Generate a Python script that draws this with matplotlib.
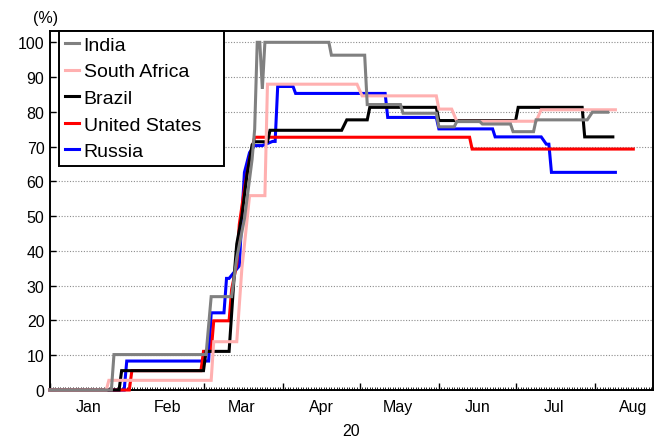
import matplotlib
matplotlib.use('Agg')
import matplotlib.pyplot as plt
import matplotlib.dates as mdates
import pandas as pd

plt.rcParams['font.family'] = ['Liberation Sans', 'DejaVu Sans']

# stringency index, change points only (value holds between listed dates)
india_dates = ['2020-01-01', '2020-01-25', '2020-01-26', '2020-03-02', '2020-03-04',
               '2020-03-12', '2020-03-14', '2020-03-17', '2020-03-20', '2020-03-21',
               '2020-03-22', '2020-03-23', '2020-03-24', '2020-03-25', '2020-04-19',
               '2020-04-20', '2020-05-03', '2020-05-04', '2020-05-17', '2020-05-18',
               '2020-05-31', '2020-06-01', '2020-06-07', '2020-06-08', '2020-06-17',
               '2020-06-18', '2020-06-29', '2020-06-30', '2020-07-08', '2020-07-09',
               '2020-07-29', '2020-07-31', '2020-08-06']
india_vals = [0, 0, 10.19, 10.19, 26.85, 26.85, 38.0, 49.2, 66.4, 75.0,
              100, 100, 86.6, 100, 100, 96.3, 96.3, 82.1, 82.1, 79.6,
              79.6, 75.7, 75.7, 77.2, 77.2, 76.5, 76.5, 74.3, 74.3, 77.7,
              77.7, 79.9, 79.9]

sa_dates = ['2020-01-01', '2020-01-23', '2020-01-24', '2020-03-04', '2020-03-05',
            '2020-03-14', '2020-03-16', '2020-03-17', '2020-03-19', '2020-03-25',
            '2020-03-26', '2020-04-30', '2020-05-02', '2020-05-31', '2020-06-01',
            '2020-06-06', '2020-06-08', '2020-07-09', '2020-07-11', '2020-08-09']
sa_vals = [0, 0, 2.78, 2.78, 13.89, 13.89, 35.0, 41.7, 55.9, 55.9,
           87.96, 87.96, 84.6, 84.6, 80.8, 80.8, 77.3, 77.3, 80.6, 80.6]

brazil_dates = ['2020-01-01', '2020-01-28', '2020-01-29', '2020-03-01', '2020-03-02',
                '2020-03-11', '2020-03-12', '2020-03-13', '2020-03-14', '2020-03-16',
                '2020-03-18', '2020-03-20', '2020-03-21', '2020-03-26', '2020-03-27',
                '2020-04-24', '2020-04-26', '2020-05-04', '2020-05-05', '2020-05-31',
                '2020-06-01', '2020-07-01', '2020-07-02', '2020-07-27', '2020-07-28',
                '2020-08-08']
brazil_vals = [0, 0, 5.56, 5.56, 11.11, 11.11, 22.0, 33.0, 42.0, 50.0,
               62.0, 70.5, 71.4, 71.4, 74.7, 74.7, 77.7, 77.7, 81.3, 81.3,
               77.5, 77.5, 81.3, 81.3, 72.8, 72.8]

us_dates = ['2020-01-01', '2020-02-01', '2020-02-02', '2020-02-29', '2020-03-01',
            '2020-03-04', '2020-03-05', '2020-03-11', '2020-03-12', '2020-03-14',
            '2020-03-15', '2020-03-17', '2020-03-19', '2020-03-21', '2020-06-13',
            '2020-06-14', '2020-08-16']
us_vals = [0, 0, 5.56, 5.56, 11.11, 11.11, 19.9, 19.9, 29.0, 36.2,
           47.7, 57.8, 66.4, 72.7, 72.7, 69.3, 69.3]

russia_dates = ['2020-01-01', '2020-01-30', '2020-01-31', '2020-03-03', '2020-03-04',
                '2020-03-09', '2020-03-10', '2020-03-11', '2020-03-15', '2020-03-16',
                '2020-03-17', '2020-03-19', '2020-03-21', '2020-03-24', '2020-03-28',
                '2020-03-29', '2020-03-30', '2020-04-05', '2020-04-06', '2020-05-11',
                '2020-05-12', '2020-05-31', '2020-06-01', '2020-06-22', '2020-06-23',
                '2020-07-11', '2020-07-13', '2020-07-14', '2020-07-15', '2020-08-09']
russia_vals = [0, 0, 8.33, 8.33, 22.2, 22.2, 32.1, 32.1, 35.7, 50.0,
               62.6, 68.3, 70.3, 70.3, 71.5, 71.5, 87.3, 87.3, 85.3, 85.3,
               78.4, 78.4, 75.1, 75.1, 72.8, 72.8, 70.7, 70.7, 62.6, 62.6]

series = [
    ('India', india_dates, india_vals, '#808080'),
    ('South Africa', sa_dates, sa_vals, '#ffb0b0'),
    ('Brazil', brazil_dates, brazil_vals, '#000000'),
    ('United States', us_dates, us_vals, '#ff0000'),
    ('Russia', russia_dates, russia_vals, '#0000ff'),
]

month_names = ['Jan', 'Feb', 'Mar', 'Apr', 'May', 'Jun', 'Jul', 'Aug']
y_ticks = list(range(0, 101, 10))

fig = plt.figure(figsize=(6.54, 4.39), dpi=100)
ax = fig.add_axes([50 / 654, 48 / 439, 602.5 / 654, 359.5 / 439])

handles = {}
# draw in reverse so India ends up on top
for name, dates, vals, color in reversed(series):
    line, = ax.plot(pd.to_datetime(dates), vals, color=color, lw=2.2,
                    zorder=3, clip_on=False, solid_joinstyle='miter')
    handles[name] = line

ax.set_xlim(pd.Timestamp('2020-01-01'), pd.Timestamp('2020-08-23 12:00'))
ax.set_ylim(0, 103.4)

ax.set_yticks(y_ticks)
ax.set_yticklabels([str(v) for v in y_ticks], fontsize=11.5)
ax.grid(axis='y', linestyle=(0, (1, 1.5)), color='#8c8c8c', lw=0.8)
ax.set_axisbelow(True)

ax.xaxis.set_major_locator(mdates.MonthLocator())
ax.xaxis.set_minor_locator(mdates.DayLocator())
ax.xaxis.set_major_formatter(plt.NullFormatter())
ax.tick_params(axis='x', which='major', direction='in', length=5, width=1)
ax.tick_params(axis='x', which='minor', direction='in', length=2.5, width=0.6)
ax.tick_params(axis='y', direction='in', length=4, width=1, pad=4)

for sp in ax.spines.values():
    sp.set_linewidth(1.4)

# month names centred in each month, year underneath
for i, m in enumerate(month_names):
    mid = pd.Timestamp(2020, i + 1, 16)
    ax.text(mid, -0.047, m, transform=ax.get_xaxis_transform(),
            ha='center', va='center', fontsize=11.5)
ax.text(0.5, -0.113, '20', transform=ax.transAxes,
        ha='center', va='center', fontsize=11.5)

fig.text(46 / 654, 1 - 19 / 439, '(%)', ha='center', va='center', fontsize=11.5)

leg = ax.legend([handles[s[0]] for s in series], [s[0] for s in series],
                loc='upper left', bbox_to_anchor=(0.0154, 0.626, 0.2734, 0.374),
                mode='expand', borderaxespad=0, fontsize=14, handlelength=0.7,
                handletextpad=0.25, labelspacing=0.46, borderpad=0.3,
                fancybox=False, framealpha=1, edgecolor='black')
leg.get_frame().set_linewidth(1.4)
leg.set_zorder(5)

fig.savefig('out.png', dpi=100)
